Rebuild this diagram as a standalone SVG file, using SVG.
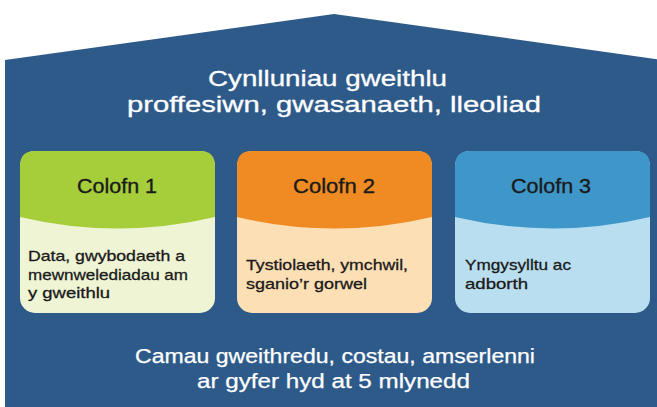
<svg xmlns="http://www.w3.org/2000/svg" width="657" height="407" viewBox="0 0 657 407">
  <style>
    .title { font-family: "Liberation Sans", Arial, sans-serif; font-size: 22px; fill: #ffffff; stroke: #ffffff; stroke-width: 0.3; text-anchor: middle; }
    .head { font-family: "Liberation Sans", Arial, sans-serif; font-size: 20px; fill: #1a1a1a; stroke: #1a1a1a; stroke-width: 0.35; text-anchor: middle; }
    .body { font-family: "Liberation Sans", Arial, sans-serif; font-size: 15px; fill: #1a1a1a; stroke: #1a1a1a; stroke-width: 0.3; }
    .foot { font-family: "Liberation Sans", Arial, sans-serif; font-size: 20px; fill: #ffffff; stroke: #ffffff; stroke-width: 0.25; text-anchor: middle; }
  </style>
  <rect x="0" y="0" width="657" height="407" fill="#ffffff"/>
  <g id="house">
    <path d="M5,60 L334,14 L663,60 L663,407 L5,407 Z" fill="#2e5a8a"/>
    <text class="title" x="327.5" y="86" textLength="239" lengthAdjust="spacingAndGlyphs">Cynlluniau gweithlu</text>
    <text class="title" x="334" y="112" textLength="414" lengthAdjust="spacingAndGlyphs">proffesiwn, gwasanaeth, lleoliad</text>
  </g>
  <g id="colofn1">
    <rect x="20" y="151" width="195" height="162" rx="15" fill="#eef4d4"/>
    <path d="M20,217 L20,166 Q20,151 35,151 L200,151 Q215,151 215,166 L215,217 Q117.5,240 20,217 Z" fill="#a6cd3a"/>
    <text class="head" x="117" y="193" textLength="80" lengthAdjust="spacingAndGlyphs">Colofn 1</text>
    <text class="body" x="28" y="261" textLength="157" lengthAdjust="spacingAndGlyphs">Data, gwybodaeth a</text>
    <text class="body" x="28" y="279.5" textLength="160" lengthAdjust="spacingAndGlyphs">mewnwelediadau am</text>
    <text class="body" x="28" y="298" textLength="82" lengthAdjust="spacingAndGlyphs">y gweithlu</text>
  </g>
  <g id="colofn2">
    <rect x="237" y="151" width="195" height="162" rx="15" fill="#fddfb5"/>
    <path d="M237,217 L237,166 Q237,151 252,151 L417,151 Q432,151 432,166 L432,217 Q334.5,240 237,217 Z" fill="#ef8b22"/>
    <text class="head" x="334" y="193" textLength="82" lengthAdjust="spacingAndGlyphs">Colofn 2</text>
    <text class="body" x="246" y="270" textLength="162" lengthAdjust="spacingAndGlyphs">Tystiolaeth, ymchwil,</text>
    <text class="body" x="246" y="288.5" textLength="121" lengthAdjust="spacingAndGlyphs">sganio’r gorwel</text>
  </g>
  <g id="colofn3">
    <rect x="455" y="151" width="195" height="162" rx="15" fill="#b9def0"/>
    <path d="M455,217 L455,166 Q455,151 470,151 L635,151 Q650,151 650,166 L650,217 Q552.5,240 455,217 Z" fill="#3e97c8"/>
    <text class="head" x="551" y="193" textLength="80" lengthAdjust="spacingAndGlyphs">Colofn 3</text>
    <text class="body" x="465" y="270" textLength="106" lengthAdjust="spacingAndGlyphs">Ymgysylltu ac</text>
    <text class="body" x="465" y="288.5" textLength="63" lengthAdjust="spacingAndGlyphs">adborth</text>
  </g>
  <g id="footer">
    <text class="foot" x="335" y="363" textLength="400" lengthAdjust="spacingAndGlyphs">Camau gweithredu, costau, amserlenni</text>
    <text class="foot" x="333.5" y="388" textLength="273" lengthAdjust="spacingAndGlyphs">ar gyfer hyd at 5 mlynedd</text>
  </g>
  <g id="connectors"/>
</svg>
